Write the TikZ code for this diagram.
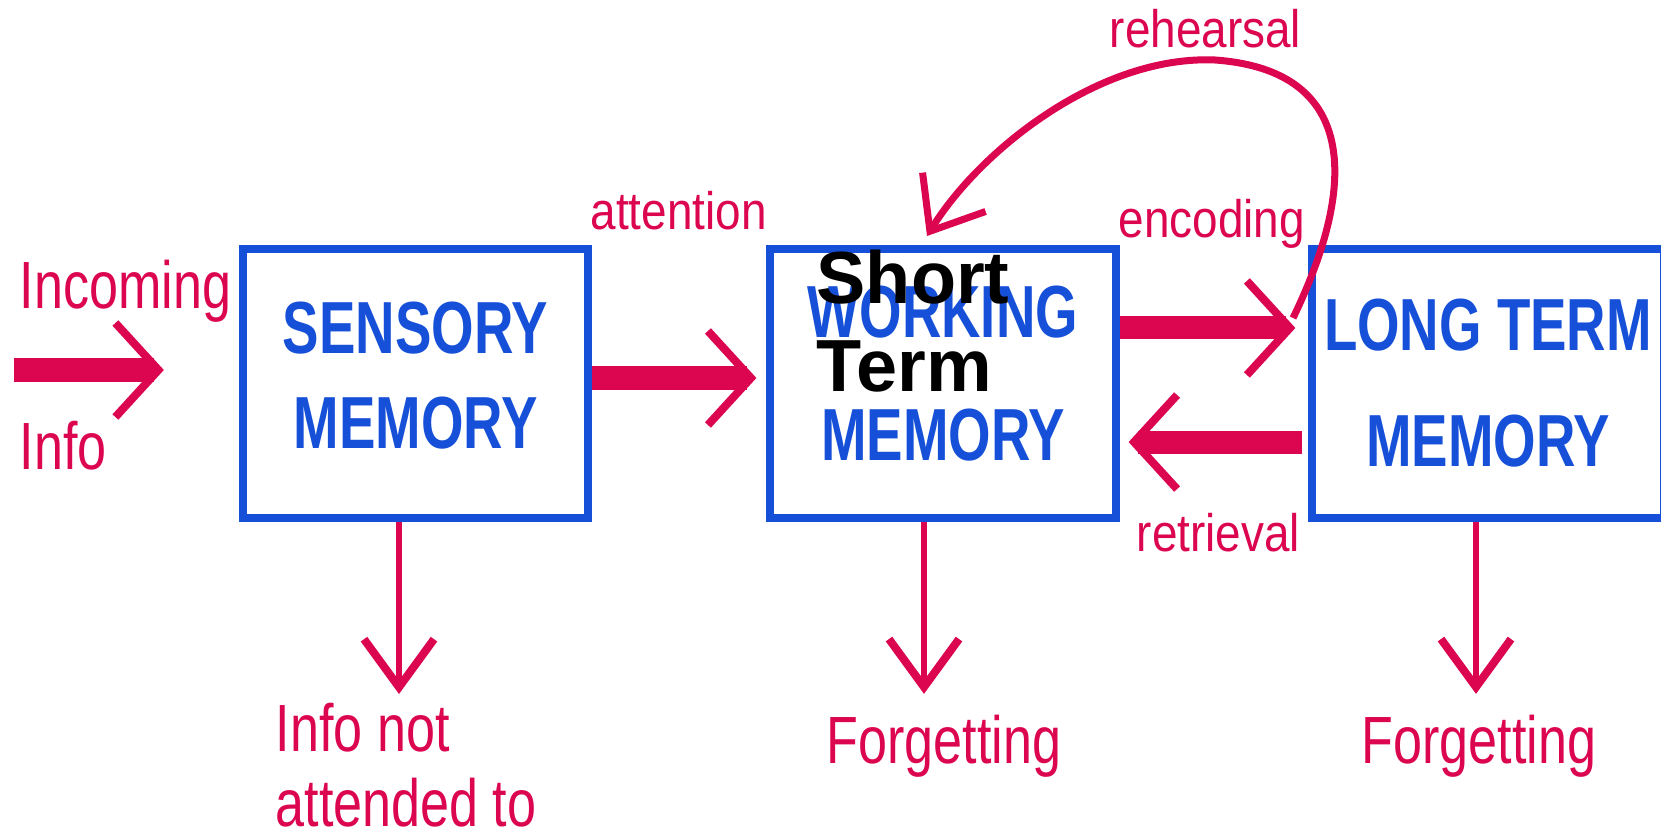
\documentclass[tikz,border=0pt]{standalone}
\usepackage{fontspec}
\usetikzlibrary{arrows.meta}
\newfontfamily\labelfont[FakeStretch=0.78]{Liberation Sans}
\newfontfamily\smallfont[FakeStretch=0.87]{Liberation Sans}
\newfontfamily\boxfont[FakeStretch=0.74]{Liberation Sans}
\newfontfamily\plainfont{Liberation Sans}
\definecolor{memblue}{HTML}{1650D8}
\definecolor{arrowpink}{HTML}{DC0550}

\begin{document}
\begin{tikzpicture}[x=0.01cm, y=-0.01cm,
	membox/.style={draw=memblue, line width=0.08cm, minimum width=3.45cm, minimum height=2.69cm, text=memblue, align=center, font=\boxfont\bfseries\fontsize{21}{24}\selectfont},
	biglabel/.style={text=arrowpink, inner sep=0pt, font=\labelfont\fontsize{19}{23}\selectfont},
	smalllabel/.style={text=arrowpink, inner sep=0pt, font=\smallfont\fontsize{15}{18}\selectfont},
	thickarrow/.style={draw=arrowpink, line width=0.23cm, -{Straight Barb[length=0.43cm, width=0.94cm, line width=0.08cm]}},
	thinarrow/.style={draw=arrowpink, line width=0.06cm, -{Straight Barb[length=0.48cm, width=0.70cm, line width=0.08cm]}},
	curvearrow/.style={draw=arrowpink, line width=0.07cm, -{Straight Barb[length=0.46cm, width=0.74cm]}}]
	\useasboundingbox (0,0) rectangle (1661,840);
	% memory stores
	\node[membox, text depth=0.16cm] (sensory) at (415.5,383.5) {SENSORY\\[3pt]MEMORY};
	\node[membox, text depth=0.2cm] (working) at (943,383.5) {WORKING\\[11pt]MEMORY};
	\node[membox] (ltm) at (1488,383.5) {LONG TERM\\[9pt]MEMORY};
	\node[anchor=north west, align=left, inner sep=0pt, font=\plainfont\bfseries\fontsize{21}{25}\selectfont] (shortterm) at (816,249) {Short\\Term};
	% labels
	\node[biglabel, anchor=base west] (incoming) at (19,309) {Incoming};
	\node[biglabel, anchor=base west] (info) at (19,469) {Info};
	\node[biglabel, anchor=north west, align=left, font=\labelfont\fontsize{19}{21.5}\selectfont] (notatt) at (275,702) {Info not\\attended to};
	\node[biglabel, anchor=base] (forgetwm) at (944,763) {Forgetting};
	\node[biglabel, anchor=base] (forgetltm) at (1479,763) {Forgetting};
	\node[smalllabel, anchor=base west] (attention) at (590,230) {attention};
	\node[smalllabel, anchor=base west] (encoding) at (1118,238) {encoding};
	\node[smalllabel, anchor=base west] (rehearsal) at (1109,48) {rehearsal};
	\node[smalllabel, anchor=base west] (retrieval) at (1136,551) {retrieval};
	% flow of information
	\coordinate (instart) at (14,370);
	\draw[thickarrow, shorten >=0.75cm] (instart) -- (instart -| sensory.west);
	\draw[thickarrow, shorten >=0.10cm] ([yshift=0.055cm]sensory.east) -- ([yshift=0.055cm]working.west);
	\draw[thickarrow, shorten >=0.13cm] ([yshift=0.555cm]working.east) -- ([yshift=0.555cm]ltm.west); % encoding
	\draw[thickarrow, shorten <=0.06cm, shorten >=0.09cm] ([yshift=-0.585cm]ltm.west) -- ([yshift=-0.585cm]working.east); % retrieval
	% loss
	\draw[thinarrow, shorten >=0.08cm] ([xshift=-0.165cm]sensory.south) -- ([xshift=-0.165cm]sensory.south |- notatt.north);
	\draw[thinarrow, shorten >=0.2cm] ([xshift=-0.19cm]working.south) -- ([xshift=-0.19cm]working.south |- forgetwm.north);
	\draw[thinarrow, shorten >=0.2cm] ([xshift=-0.12cm]ltm.south) -- ([xshift=-0.12cm]ltm.south |- forgetltm.north);
	% rehearsal loop
	\coordinate (rehstart) at (1293,318);
	\coordinate (rehend) at (927,236);
	\draw[curvearrow] (rehstart) .. controls (1360,180) and (1355,70) .. (1215,60) .. controls (1100,55) and (980,150) .. (rehend);
\end{tikzpicture}
\end{document}
